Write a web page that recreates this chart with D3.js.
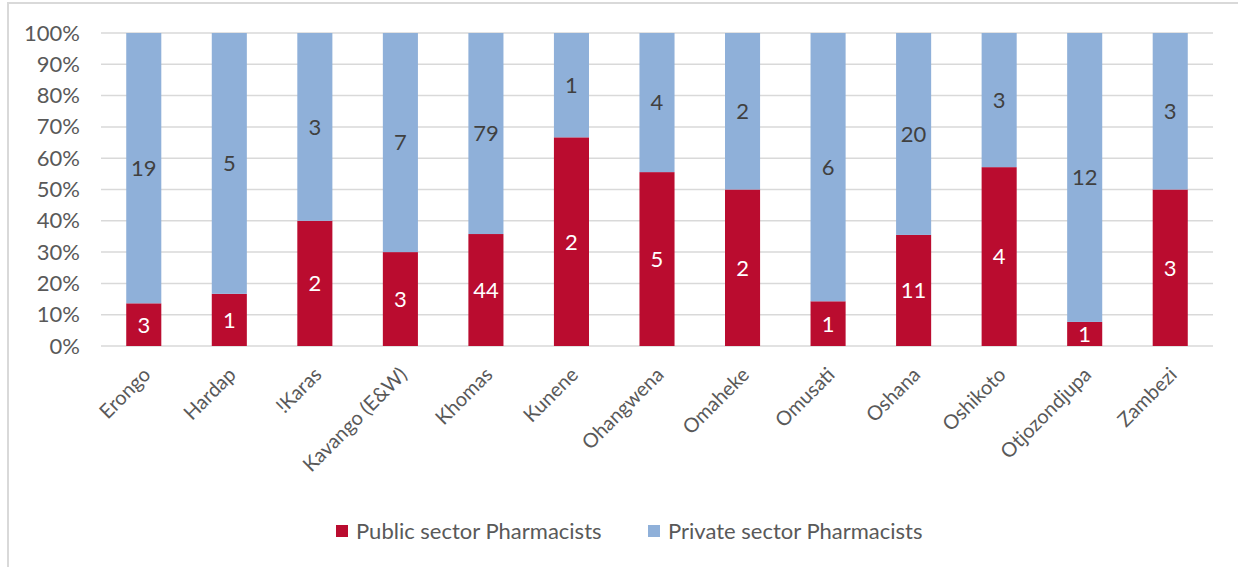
<!DOCTYPE html>
<html>
<head>
<meta charset="utf-8">
<script src="https://cdn.jsdelivr.net/npm/d3@7"></script>
<style>
  html, body { margin: 0; padding: 0; background: #fff; }
  svg { display: block; font-family: Lato, "Open Sans", sans-serif; }
</style>
</head>
<body>
<svg id="chart" width="1238" height="567"></svg>
<script>
// Pharmacists per region, split by sector
const regions = ["Erongo", "Hardap", "!Karas", "Kavango (E&W)", "Khomas", "Kunene",
  "Ohangwena", "Omaheke", "Omusati", "Oshana", "Oshikoto", "Otjozondjupa", "Zambezi"];
const publicSector = [3, 1, 2, 3, 44, 2, 5, 2, 1, 11, 4, 1, 3];
const privateSector = [19, 5, 3, 7, 79, 1, 4, 2, 6, 20, 3, 12, 3];
const seriesNames = ["Public sector Pharmacists", "Private sector Pharmacists"];
const seriesColors = ["#BA0C2F", "#8FB0D9"];
const yTicks = [0, 0.1, 0.2, 0.3, 0.4, 0.5, 0.6, 0.7, 0.8, 0.9, 1];

const svg = d3.select("#chart");
const margin = { left: 101, right: 25, top: 33, bottom: 221 };
const W = 1238, H = 567;
const FS = 22;

// chart frame
svg.append("path")
  .attr("d", `M8,${H} L8,3 L${W},3`)
  .attr("fill", "none")
  .attr("stroke", "#d9d9d9")
  .attr("stroke-width", 2);

const x = d3.scaleBand()
  .domain(regions)
  .range([margin.left, W - margin.right])
  .paddingInner(0.59)
  .paddingOuter(0.295);

const y = d3.scaleLinear()
  .domain([0, 1])
  .range([H - margin.bottom, margin.top]);

// gridlines
svg.append("g")
  .selectAll("line")
  .data(yTicks)
  .join("line")
  .attr("x1", margin.left)
  .attr("x2", W - margin.right)
  .attr("y1", d => y(d))
  .attr("y2", d => y(d))
  .attr("stroke", "#d9d9d9")
  .attr("stroke-width", 1.5);

// y axis labels
const yAxis = svg.append("g")
  .attr("transform", `translate(${margin.left - 21},0)`)
  .call(d3.axisLeft(y).tickValues(yTicks).tickFormat(d3.format(".0%")).tickSize(0).tickPadding(0));
yAxis.select(".domain").remove();
yAxis.selectAll("text")
  .attr("fill", "#595959")
  .attr("font-size", FS)
  .attr("font-family", "Lato, sans-serif");

// stacked shares
const rows = regions.map((r, i) => {
  const total = publicSector[i] + privateSector[i];
  return { region: r, pub: publicSector[i], priv: privateSector[i], total };
});
const segments = [];
rows.forEach(d => {
  const p1 = d.pub / d.total;
  segments.push({ region: d.region, y0: 0, y1: p1, value: d.pub, s: 0 });
  segments.push({ region: d.region, y0: p1, y1: 1, value: d.priv, s: 1 });
});

svg.append("g")
  .selectAll("rect")
  .data(segments)
  .join("rect")
  .attr("x", d => x(d.region))
  .attr("width", x.bandwidth())
  .attr("y", d => y(d.y1))
  .attr("height", d => y(d.y0) - y(d.y1))
  .attr("fill", d => seriesColors[d.s]);

// value labels centred in each segment
svg.append("g")
  .selectAll("text")
  .data(segments)
  .join("text")
  .attr("x", d => x(d.region) + x.bandwidth() / 2)
  .attr("y", d => y((d.y0 + d.y1) / 2))
  .attr("dy", "0.36em")
  .attr("text-anchor", "middle")
  .attr("font-size", FS)
  .attr("fill", d => d.s === 0 ? "#ffffff" : "#404040")
  .text(d => d.value);

// x axis labels, rotated
svg.append("g")
  .selectAll("text")
  .data(regions)
  .join("text")
  .attr("transform", d => `translate(${x(d) + x.bandwidth() / 2 + 3},${H - margin.bottom + 25}) rotate(-45)`)
  .attr("text-anchor", "end")
  .attr("dy", "0.35em")
  .attr("font-size", 20)
  .attr("fill", "#595959")
  .text(d => d);

// legend
const legend = svg.append("g").attr("transform", "translate(336,531)");
const lx = [0, 312];
seriesNames.forEach((name, i) => {
  const g = legend.append("g").attr("transform", `translate(${lx[i]},0)`);
  g.append("rect").attr("x", 0).attr("y", -6).attr("width", 12).attr("height", 12).attr("fill", seriesColors[i]);
  g.append("text").attr("x", 20).attr("y", 0).attr("dy", "0.35em")
    .attr("font-size", FS).attr("fill", "#595959").text(name);
});
</script>
</body>
</html>
